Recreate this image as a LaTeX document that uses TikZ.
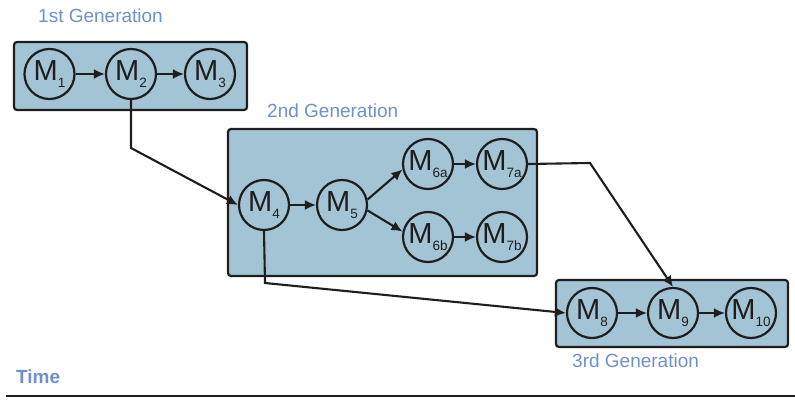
\documentclass[tikz,border=0pt]{standalone}
\usepackage{fontspec}
\setmainfont{Liberation Sans}
\usetikzlibrary{arrows.meta}
\definecolor{genfill}{HTML}{A3C4D4}
\definecolor{genlabel}{HTML}{6F8FCF}
\definecolor{edge}{HTML}{1E1E1E}
\newcommand\mnode[1]{M\raisebox{-0.5ex}{\fontsize{13.5}{13.5}\selectfont #1}}
\begin{document}
\begin{tikzpicture}[x=1pt,y=-1pt,
  genbox/.style={draw=edge,fill=genfill,line width=2.2pt,rounded corners=3pt},
  modnode/.style={circle,draw=edge,line width=2.2pt,minimum size=50pt,inner sep=0pt,
    text=edge,font=\fontsize{29}{29}\selectfont},
  genlab/.style={anchor=west,text=genlabel,font=\fontsize{19}{19}\selectfont,inner sep=0pt},
  link/.style={draw=edge,line width=2.1pt,-{Latex[length=11pt,width=10pt]}}]
  \useasboundingbox (0,0) rectangle (795,401);

  % generation boxes
  \draw[genbox] (14,42) rectangle (247,110);
  \draw[genbox] (228,129) rectangle (537,276);
  \draw[genbox] (556,280) rectangle (788,347);

  % labels
  \node[genlab] (g1) at (38,16) {1st Generation};
  \node[genlab] (g2) at (267,111) {2nd Generation};
  \node[genlab] (g3) at (572,361) {3rd Generation};
  \node[anchor=west,text=genlabel,font=\fontsize{19}{19}\selectfont\bfseries,inner sep=0pt] (time) at (16,377) {Time};

  % modules
  \node[modnode] (M1) at (49.5,74) {\mnode{1}};
  \node[modnode] (M2) at (131,74) {\mnode{2}};
  \node[modnode] (M3) at (210,74) {\mnode{3}};
  \node[modnode] (M4) at (264,205) {\mnode{4}};
  \node[modnode] (M5) at (342,205) {\mnode{5}};
  \node[modnode] (M6a) at (428,164) {\mnode{6a}};
  \node[modnode] (M7a) at (502,164) {\mnode{7a}};
  \node[modnode] (M6b) at (428,237) {\mnode{6b}};
  \node[modnode] (M7b) at (502,237) {\mnode{7b}};
  \node[modnode] (M8) at (592,313) {\mnode{8}};
  \node[modnode] (M9) at (673,313) {\mnode{9}};
  \node[modnode] (M10) at (751,313) {\mnode{10}};

  % within-generation links
  \draw[link] (M1) -- (M2);
  \draw[link] (M2) -- (M3);
  \draw[link] (M4) -- (M5);
  \draw[link] (M5.12) -- (M6a.192);
  \draw[link] (M5.-12) -- (M6b.168);
  \draw[link] (M6a) -- (M7a);
  \draw[link] (M6b) -- (M7b);
  \draw[link] (M8) -- (M9);
  \draw[link] (M9) -- (M10);

  % cross-generation links
  \coordinate (k1) at (131,148);
  \coordinate (k2) at (265,283);
  \coordinate (k3) at (590,163);
  \draw[link] (M2.south) -- (k1) -- (M4.west);
  \draw[link] (M4.south) -- (k2) -- (M8.west);
  \draw[link] (M7a.east) -- (k3) -- (M9.north);

  % time axis
  \coordinate (t0) at (6,396);
  \coordinate (t1) at (795,396);
  \draw[draw=edge,line width=2.4pt] (t0) -- (t1);
\end{tikzpicture}
\end{document}
